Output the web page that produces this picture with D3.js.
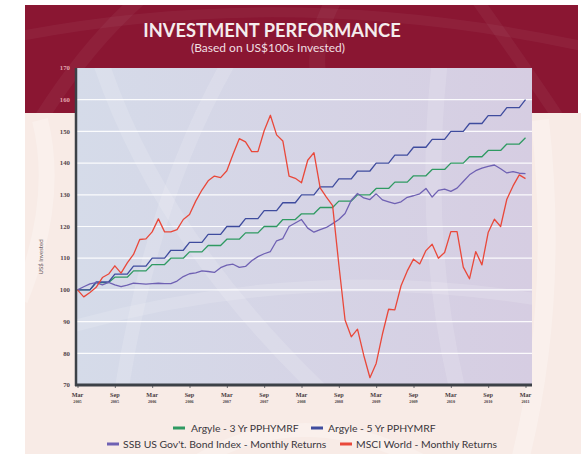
<!DOCTYPE html>
<html>
<head>
<meta charset="utf-8">
<script src="https://cdn.jsdelivr.net/npm/d3@7"></script>
<style>
	body { margin: 0; background: #ffffff; }
	svg { display: block; }
</style>
</head>
<body>
<svg id="chart"></svg>
<script>
// Month index 0 = Mar 2005 ... 72 = Mar 2011
const tickMonths = ["Mar", "Sep", "Mar", "Sep", "Mar", "Sep", "Mar", "Sep", "Mar", "Sep", "Mar", "Sep", "Mar"];
const tickYears = ["2005", "2005", "2006", "2006", "2007", "2007", "2008", "2008", "2009", "2009", "2010", "2010", "2011"];
const yTicks = [70, 80, 90, 100, 110, 120, 130, 140, 150, 160, 170];

const argyle3 = [
	100, 100, 100, 102.3, 102.3, 102.3, 104, 104, 104, 106, 106, 106,
	108, 108, 108, 110, 110, 110, 112, 112, 112, 114, 114, 114,
	116, 116, 116, 118, 118, 118, 120, 120, 120, 122.2, 122.2, 122.2,
	124, 124, 124, 126, 126, 126, 128, 128, 128, 130, 130, 130,
	132, 132, 132, 134, 134, 134, 136, 136, 136, 138, 138, 138,
	140, 140, 140, 142, 142, 142, 144, 144, 144, 146, 146, 146,
	148
];

const argyle5 = [
	100, 100, 100, 102.5, 102.5, 102.5, 105, 105, 105, 107.5, 107.5, 107.5,
	110, 110, 110, 112.5, 112.5, 112.5, 115, 115, 115, 117.5, 117.5, 117.5,
	120, 120, 120, 122.5, 122.5, 122.5, 125, 125, 125, 127.5, 127.5, 127.5,
	130, 130, 130, 132.5, 132.5, 132.5, 135, 135, 135, 137.5, 137.5, 137.5,
	140, 140, 140, 142.5, 142.5, 142.5, 145, 145, 145, 147.5, 147.5, 147.5,
	150, 150, 150, 152.5, 152.5, 152.5, 155, 155, 155, 157.5, 157.5, 157.5,
	160
];

const ssbBond = [
	100, 101, 101.9, 102.3, 101.6, 102.4, 101.6, 101, 101.5, 102.1, 102, 101.8,
	102, 102.1, 102, 102, 102.8, 104.2, 105.1, 105.4, 106, 105.8, 105.5, 107,
	107.8, 108.1, 107.1, 107.4, 109.2, 110.5, 111.4, 112.1, 115.5, 116.2, 120, 121.1,
	122.2, 119.5, 118.2, 119, 119.7, 120.9, 122.2, 124.1, 128.3, 130.4, 129, 128.5,
	130.3, 128.4, 127.8, 127.2, 127.8, 129.2, 129.7, 130.3, 132, 129.3, 131.4, 131.8,
	131.1, 132.1, 134.2, 136.3, 137.6, 138.4, 139, 139.4, 138.2, 136.9, 137.3, 136.8,
	136.7
];

const msciWorld = [
	100, 97.8, 99.2, 100.8, 103.9, 105, 107.6, 105.3, 108.5, 111.2, 115.9, 116.1,
	118.3, 122.4, 118.3, 118.3, 119, 122.2, 123.8, 128, 131.5, 134.4, 135.9, 135.4,
	137.6, 142.8, 147.7, 146.7, 143.6, 143.6, 150.2, 155.1, 148.9, 147, 135.9, 135.2,
	133.8, 140.9, 143.3, 132.2, 129.3, 126.6, 108, 90.5, 85.2, 87.6, 79.4, 72.3,
	76.8, 86, 93.9, 93.7, 101.3, 106, 109.7, 108.2, 112.4, 114.4, 110, 111.8,
	118.4, 118.4, 107.2, 103.5, 112.1, 107.9, 118.1, 122.3, 120, 128.6, 132.8, 136.3,
	135.1
];

const seriesNames = [
	"Argyle - 3 Yr PPHYMRF",
	"Argyle - 5 Yr PPHYMRF",
	"SSB US Gov't. Bond Index - Monthly Returns",
	"MSCI World - Monthly Returns"
];
const seriesColors = ["#2f9a62", "#3f4c9e", "#6f61b3", "#e9483a"];

const width = 581;
const height = 454;
const plotLeft = 76;
const plotRight = 532;
const plotTop = 68;
const plotBottom = 385;

const svg = d3.select("#chart")
	.attr("width", width)
	.attr("height", height)
	.style("font-family", "Lato, 'Open Sans', sans-serif");

const defs = svg.append("defs");

const panelGrad = defs.append("linearGradient")
	.attr("id", "panelGrad")
	.attr("x1", "0").attr("x2", "1").attr("y1", "0").attr("y2", "0");
panelGrad.append("stop").attr("offset", "0").attr("stop-color", "#d5dbe9");
panelGrad.append("stop").attr("offset", "1").attr("stop-color", "#d6cde2");

defs.append("clipPath").attr("id", "bandClip")
	.append("rect").attr("x", 25).attr("y", 5).attr("width", 553).attr("height", 108);
defs.append("clipPath").attr("id", "creamClip")
	.append("rect").attr("x", 25).attr("y", 113).attr("width", 556).attr("height", 341);
defs.append("clipPath").attr("id", "panelClip")
	.append("rect").attr("x", plotLeft).attr("y", plotTop)
	.attr("width", plotRight - plotLeft).attr("height", plotBottom - plotTop);

// Background: red band and cream page
svg.append("rect")
	.attr("x", 25).attr("y", 113).attr("width", 556).attr("height", 341)
	.attr("fill", "#f8ebe6");
svg.append("rect")
	.attr("x", 25).attr("y", 5).attr("width", 553).attr("height", 108)
	.attr("fill", "#8a1632");

// faint globe-like arcs for texture
const band = svg.append("g").attr("clip-path", "url(#bandClip)")
	.attr("fill", "none").attr("stroke", "#ffffff").attr("stroke-opacity", 0.045);
band.append("path").attr("d", "M40,120 Q90,40 150,-10").attr("stroke-width", 14);
band.append("path").attr("d", "M330,120 Q300,50 340,-10").attr("stroke-width", 16);
band.append("path").attr("d", "M470,-10 Q520,60 560,120").attr("stroke-width", 12);
band.append("path").attr("d", "M0,40 Q290,-20 600,50").attr("stroke-width", 10);

const cream = svg.append("g").attr("clip-path", "url(#creamClip)")
	.attr("fill", "none").attr("stroke", "#ffffff").attr("stroke-opacity", 0.25);
cream.append("path").attr("d", "M20,300 Q60,200 40,120").attr("stroke-width", 16);
cream.append("path").attr("d", "M540,120 Q560,300 520,460").attr("stroke-width", 18);
cream.append("path").attr("d", "M200,460 Q300,400 420,460").attr("stroke-width", 14);

// Title
svg.append("text")
	.attr("x", 272).attr("y", 37)
	.attr("text-anchor", "middle")
	.attr("fill", "#f4eced")
	.attr("font-size", 18.3)
	.attr("font-weight", 700)
	.text("INVESTMENT PERFORMANCE");
svg.append("text")
	.attr("x", 268).attr("y", 52)
	.attr("text-anchor", "middle")
	.attr("fill", "#f0dfe1")
	.attr("font-size", 12)
	.text("(Based on US$100s Invested)");

// Plot panel
svg.append("rect")
	.attr("x", plotLeft).attr("y", plotTop)
	.attr("width", plotRight - plotLeft).attr("height", plotBottom - plotTop)
	.attr("fill", "url(#panelGrad)");

const panelDeco = svg.append("g").attr("clip-path", "url(#panelClip)")
	.attr("fill", "none").attr("stroke", "#ffffff").attr("stroke-opacity", 0.14);
panelDeco.append("path").attr("d", "M100,60 Q160,240 330,400").attr("stroke-width", 16);
panelDeco.append("path").attr("d", "M230,60 Q150,200 120,400").attr("stroke-width", 14);
panelDeco.append("path").attr("d", "M440,60 Q420,240 460,400").attr("stroke-width", 16);
panelDeco.append("path").attr("d", "M60,330 Q300,260 540,300").attr("stroke-width", 12);

// Scales
const x = d3.scaleLinear()
	.domain([0, 72])
	.range([77.5, 525.5]);

const y = d3.scaleLinear()
	.domain([70, 170])
	.range([plotBottom, plotTop]);

// Gridlines
svg.append("g")
	.selectAll("line")
	.data(yTicks.filter(d => d > 70 && d < 170))
	.join("line")
	.attr("x1", plotLeft).attr("x2", plotRight)
	.attr("y1", d => y(d)).attr("y2", d => y(d))
	.attr("stroke", "#ffffff")
	.attr("stroke-opacity", 0.9)
	.attr("stroke-width", 1.2);

// Y labels
svg.append("g")
	.selectAll("text")
	.data(yTicks)
	.join("text")
	.attr("x", 70)
	.attr("y", d => y(d) + 2.2)
	.attr("text-anchor", "end")
	.attr("font-family", "'Liberation Serif', serif")
	.attr("font-weight", 700)
	.attr("font-size", 6.8)
	.attr("fill", d => y(d) < 113 ? "#e2a5ad" : "#55464c")
	.text(d => d);

svg.append("text")
	.attr("transform", "translate(43,257) rotate(-90)")
	.attr("text-anchor", "middle")
	.attr("font-size", 6)
	.attr("fill", "#6d5d63")
	.text("US$ Invested");

// Lines
const line = d3.line()
	.x((d, i) => x(i))
	.y(d => y(d));

const allSeries = [argyle3, argyle5, ssbBond, msciWorld];
svg.append("g")
	.attr("fill", "none")
	.attr("stroke-width", 1.3)
	.attr("stroke-linejoin", "round")
	.selectAll("path")
	.data(allSeries)
	.join("path")
	.attr("stroke", (d, i) => seriesColors[i])
	.attr("d", line);

// Axes
svg.append("line")
	.attr("x1", plotLeft).attr("x2", plotLeft)
	.attr("y1", plotTop).attr("y2", plotBottom + 1)
	.attr("stroke", "#3c4147")
	.attr("stroke-width", 2.5);

const xAxis = svg.append("g")
	.attr("transform", `translate(0,${plotBottom})`)
	.call(d3.axisBottom(x)
		.tickValues(d3.range(0, 73, 6))
		.tickSize(3)
		.tickFormat(""));
xAxis.select(".domain").remove();
xAxis.selectAll(".tick line").attr("stroke", "#4a4d52").attr("stroke-width", 0.8);

svg.append("line")
	.attr("x1", plotLeft - 1).attr("x2", plotRight)
	.attr("y1", plotBottom).attr("y2", plotBottom)
	.attr("stroke", "#3c4147")
	.attr("stroke-width", 3);

const xLabels = svg.append("g")
	.attr("font-family", "'Liberation Serif', serif")
	.attr("font-weight", 700)
	.attr("fill", "#4a3c42")
	.attr("text-anchor", "middle");

xLabels.selectAll("text.mon")
	.data(tickMonths)
	.join("text")
	.attr("class", "mon")
	.attr("x", (d, i) => x(i * 6))
	.attr("y", 397)
	.attr("font-size", 6.2)
	.text(d => d);

xLabels.selectAll("text.yr")
	.data(tickYears)
	.join("text")
	.attr("class", "yr")
	.attr("x", (d, i) => x(i * 6))
	.attr("y", 403)
	.attr("font-size", 4.2)
	.text(d => d);

// Legend
const legendItems = [
	{ sx: 173, y: 428, tx: 191 },
	{ sx: 311, y: 428, tx: 328 },
	{ sx: 107, y: 444, tx: 123 },
	{ sx: 340, y: 444, tx: 356 }
];

const legend = svg.append("g");
legend.selectAll("rect")
	.data(legendItems)
	.join("rect")
	.attr("x", d => d.sx)
	.attr("y", d => d.y - 1.5)
	.attr("width", 12)
	.attr("height", 3)
	.attr("fill", (d, i) => seriesColors[i]);

legend.selectAll("text")
	.data(legendItems)
	.join("text")
	.attr("x", d => d.tx)
	.attr("y", d => d.y + 3.5)
	.attr("font-size", 10.4)
	.attr("fill", "#3b373d")
	.text((d, i) => seriesNames[i]);
</script>
</body>
</html>
